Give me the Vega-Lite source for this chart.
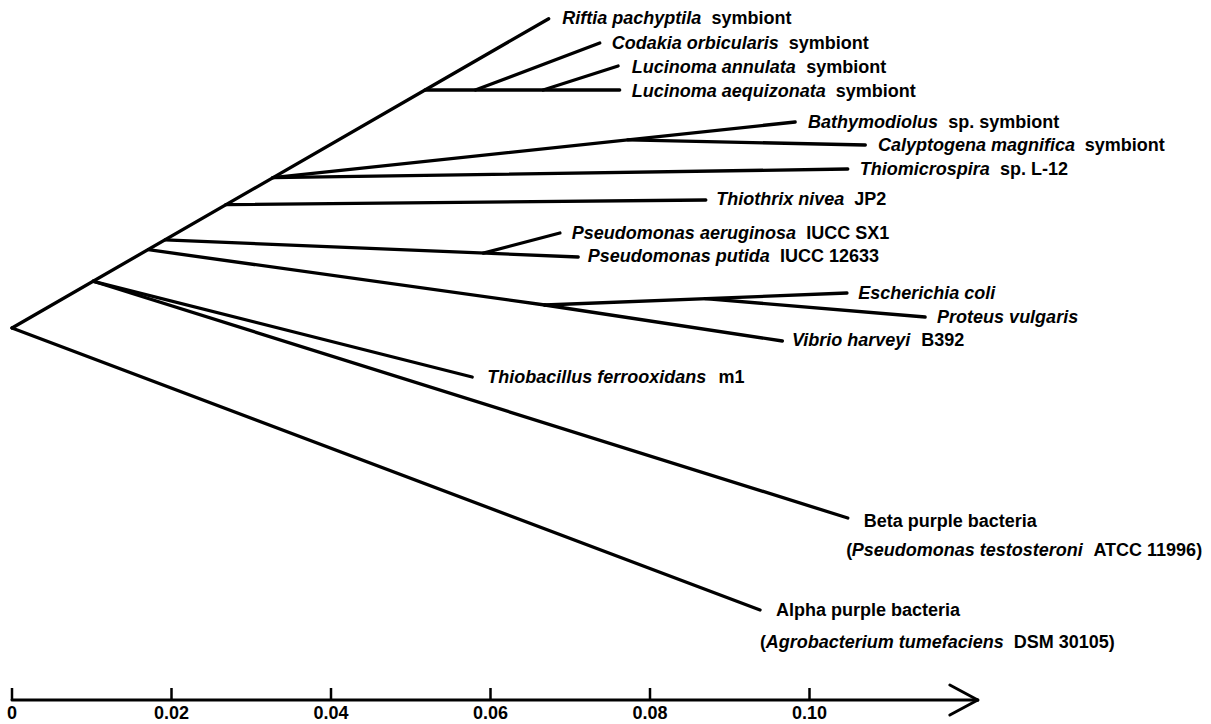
{
  "$schema": "https://vega.github.io/schema/vega-lite/v6.json",
  "width": 1211,
  "height": 724,
  "autosize": "none",
  "padding": 0,
  "background": "white",
  "config": {"view": {"stroke": null}},
  "datasets": {
    "branches": [
      {"x": 0, "y": 328, "x2": 0.0673, "y2": 18.7},
      {"x": 0, "y": 328, "x2": 0.0938, "y2": 610},
      {"x": 0.0102, "y": 281.3, "x2": 0.1048, "y2": 518},
      {"x": 0.0102, "y": 281.3, "x2": 0.0577, "y2": 377},
      {"x": 0.0171, "y": 249.7, "x2": 0.0668, "y2": 305},
      {"x": 0.0668, "y": 305, "x2": 0.0966, "y2": 341},
      {"x": 0.0668, "y": 305, "x2": 0.1047, "y2": 293},
      {"x": 0.0869, "y": 298.6, "x2": 0.1145, "y2": 317},
      {"x": 0.0192, "y": 239.9, "x2": 0.0710, "y2": 257},
      {"x": 0.0591, "y": 253.1, "x2": 0.0687, "y2": 233},
      {"x": 0.0268, "y": 204.7, "x2": 0.0870, "y2": 200},
      {"x": 0.0327, "y": 177.7, "x2": 0.1048, "y2": 169},
      {"x": 0.0327, "y": 177.7, "x2": 0.0982, "y2": 122},
      {"x": 0.0772, "y": 139.8, "x2": 0.1070, "y2": 145},
      {"x": 0.0518, "y": 90, "x2": 0.0762, "y2": 90},
      {"x": 0.0581, "y": 90, "x2": 0.0737, "y2": 43},
      {"x": 0.0666, "y": 90, "x2": 0.0760, "y2": 66}
    ],
    "italicLabels": [
      {"text": "Riftia pachyptila", "x": 0.0690, "y": 19},
      {"text": "Codakia orbicularis", "x": 0.0752, "y": 44},
      {"text": "Lucinoma annulata", "x": 0.0777, "y": 68},
      {"text": "Lucinoma aequizonata", "x": 0.0777, "y": 92},
      {"text": "Bathymodiolus", "x": 0.0998, "y": 123},
      {"text": "Calyptogena magnifica", "x": 0.1086, "y": 146},
      {"text": "Thiomicrospira", "x": 0.1063, "y": 170},
      {"text": "Thiothrix nivea", "x": 0.0883, "y": 200},
      {"text": "Pseudomonas aeruginosa", "x": 0.0702, "y": 234},
      {"text": "Pseudomonas putida", "x": 0.0722, "y": 257},
      {"text": "Escherichia coli", "x": 0.1061, "y": 294},
      {"text": "Proteus vulgaris", "x": 0.1160, "y": 318},
      {"text": "Vibrio harveyi", "x": 0.0978, "y": 341},
      {"text": "Thiobacillus ferrooxidans", "x": 0.0596, "y": 378},
      {"text": "Pseudomonas testosteroni", "x": 0.1053, "y": 551},
      {"text": "Agrobacterium tumefaciens", "x": 0.0945, "y": 643}
    ],
    "romanLabels": [
      {"text": "symbiont", "x": 0.0877, "y": 19},
      {"text": "symbiont", "x": 0.0974, "y": 44},
      {"text": "symbiont", "x": 0.0996, "y": 68},
      {"text": "symbiont", "x": 0.1033, "y": 92},
      {"text": "sp. symbiont", "x": 0.1174, "y": 123},
      {"text": "symbiont", "x": 0.1345, "y": 146},
      {"text": "sp. L-12", "x": 0.1239, "y": 170},
      {"text": "JP2", "x": 0.1056, "y": 200},
      {"text": "IUCC SX1", "x": 0.0996, "y": 234},
      {"text": "IUCC 12633", "x": 0.0963, "y": 257},
      {"text": "B392", "x": 0.1140, "y": 341},
      {"text": "m1", "x": 0.0886, "y": 378},
      {"text": "Beta purple bacteria", "x": 0.1068, "y": 522},
      {"text": "(", "x": 0.1046, "y": 551},
      {"text": "ATCC 11996)", "x": 0.1356, "y": 551},
      {"text": "Alpha purple bacteria", "x": 0.0958, "y": 611},
      {"text": "(", "x": 0.0938, "y": 643},
      {"text": "DSM 30105)", "x": 0.1256, "y": 643}
    ],
    "axisLines": [
      {"x": 0, "y": 700, "x2": 0.1211, "y2": 700},
      {"x": 0.1176, "y": 685, "x2": 0.1211, "y2": 700},
      {"x": 0.1176, "y": 715, "x2": 0.1211, "y2": 700}
    ],
    "ticks": [
      {"v": 0, "label": "0"},
      {"v": 0.02, "label": "0.02"},
      {"v": 0.04, "label": "0.04"},
      {"v": 0.06, "label": "0.06"},
      {"v": 0.08, "label": "0.08"},
      {"v": 0.10, "label": "0.10"}
    ]
  },
  "layer": [
    {
      "data": {"name": "branches"},
      "mark": {"type": "rule", "color": "black", "strokeWidth": 3.3, "strokeCap": "round"},
      "encoding": {
        "x": {"field": "x", "type": "quantitative", "scale": {"domain": [-0.0015047, 0.1503448], "nice": false, "zero": false}, "axis": null},
        "y": {"field": "y", "type": "quantitative", "scale": {"domain": [0, 724], "reverse": true, "nice": false, "zero": false}, "axis": null},
        "x2": {"field": "x2"},
        "y2": {"field": "y2"}
      }
    },
    {
      "data": {"name": "axisLines"},
      "mark": {"type": "rule", "color": "black", "strokeWidth": 3, "strokeCap": "round"},
      "encoding": {
        "x": {"field": "x", "type": "quantitative"},
        "y": {"field": "y", "type": "quantitative"},
        "x2": {"field": "x2"},
        "y2": {"field": "y2"}
      }
    },
    {
      "data": {"name": "ticks"},
      "mark": {"type": "rule", "color": "black", "strokeWidth": 2.5},
      "encoding": {
        "x": {"field": "v", "type": "quantitative"},
        "y": {"datum": 688},
        "y2": {"datum": 700}
      }
    },
    {
      "data": {"name": "ticks"},
      "mark": {"type": "text", "font": "Liberation Sans", "fontSize": 18, "fontWeight": "bold", "color": "black", "align": "center", "baseline": "middle"},
      "encoding": {
        "x": {"field": "v", "type": "quantitative"},
        "y": {"datum": 714},
        "text": {"field": "label"}
      }
    },
    {
      "data": {"name": "italicLabels"},
      "mark": {"type": "text", "font": "Liberation Sans", "fontSize": 18, "fontWeight": "bold", "fontStyle": "italic", "color": "black", "align": "left", "baseline": "middle"},
      "encoding": {
        "x": {"field": "x", "type": "quantitative"},
        "y": {"field": "y", "type": "quantitative"},
        "text": {"field": "text"}
      }
    },
    {
      "data": {"name": "romanLabels"},
      "mark": {"type": "text", "font": "Liberation Sans", "fontSize": 18, "fontWeight": "bold", "color": "black", "align": "left", "baseline": "middle"},
      "encoding": {
        "x": {"field": "x", "type": "quantitative"},
        "y": {"field": "y", "type": "quantitative"},
        "text": {"field": "text"}
      }
    }
  ]
}
